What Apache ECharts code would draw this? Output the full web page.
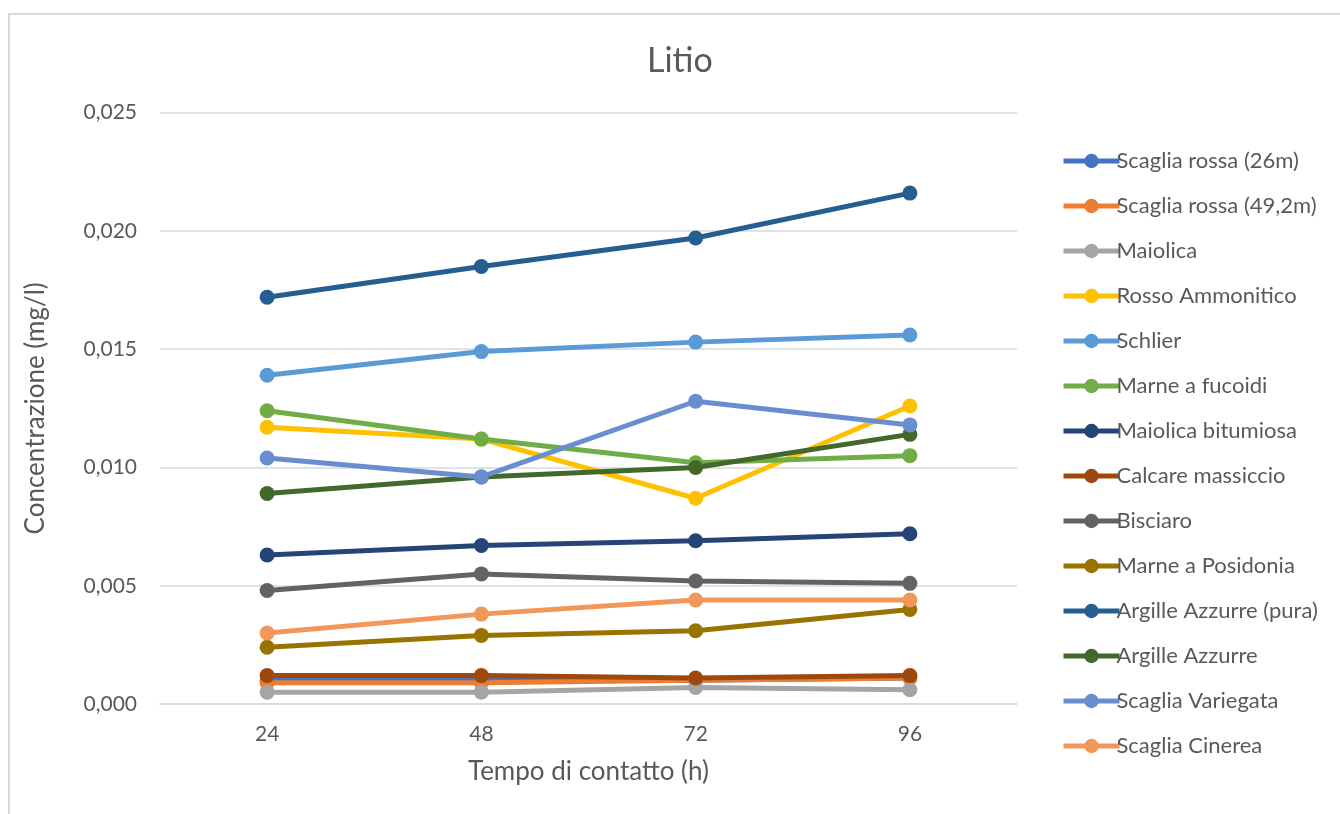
<!DOCTYPE html>
<html>
<head>
<meta charset="utf-8">
<title>Litio</title>
<script src="https://cdn.jsdelivr.net/npm/echarts@6/dist/echarts.min.js"></script>
<style>
  html, body { margin: 0; padding: 0; background: #ffffff; }
  #chart { width: 1340px; height: 814px; }
</style>
</head>
<body>
<div id="chart"></div>
<script>
// Contact time (hours)
const hours = ['24', '48', '72', '96'];

// Lithium concentration (mg/l) for each formation
const scagliaRossa26 = [0.0010, 0.0010, 0.0010, 0.0011];
const scagliaRossa492 = [0.0009, 0.0009, 0.0010, 0.0011];
const maiolica = [0.0005, 0.0005, 0.0007, 0.0006];
const rossoAmmonitico = [0.0117, 0.0112, 0.0087, 0.0126];
const schlier = [0.0139, 0.0149, 0.0153, 0.0156];
const marneFucoidi = [0.0124, 0.0112, 0.0102, 0.0105];
const maiolicaBitumiosa = [0.0063, 0.0067, 0.0069, 0.0072];
const calcareMassiccio = [0.0012, 0.0012, 0.0011, 0.0012];
const bisciaro = [0.0048, 0.0055, 0.0052, 0.0051];
const marnePosidonia = [0.0024, 0.0029, 0.0031, 0.0040];
const argilleAzzurrePura = [0.0172, 0.0185, 0.0197, 0.0216];
const argilleAzzurre = [0.0089, 0.0096, 0.0100, 0.0114];
const scagliaVariegata = [0.0104, 0.0096, 0.0128, 0.0118];
const scagliaCinerea = [0.0030, 0.0038, 0.0044, 0.0044];

const seriesNames = [
  'Scaglia rossa (26m)', 'Scaglia rossa (49,2m)', 'Maiolica', 'Rosso Ammonitico',
  'Schlier', 'Marne a fucoidi', 'Maiolica bitumiosa', 'Calcare massiccio',
  'Bisciaro', 'Marne a Posidonia', 'Argille Azzurre (pura)', 'Argille Azzurre',
  'Scaglia Variegata', 'Scaglia Cinerea'
];
const seriesValues = [
  scagliaRossa26, scagliaRossa492, maiolica, rossoAmmonitico,
  schlier, marneFucoidi, maiolicaBitumiosa, calcareMassiccio,
  bisciaro, marnePosidonia, argilleAzzurrePura, argilleAzzurre,
  scagliaVariegata, scagliaCinerea
];
const seriesColors = [
  '#4472C4', '#ED7D31', '#A5A5A5', '#FFC000',
  '#5B9BD5', '#70AD47', '#264478', '#9E480E',
  '#636363', '#997300', '#255E91', '#43682B',
  '#698ED0', '#F1975A'
];

const FONT = 'Lato, "Open Sans", sans-serif';
const TEXT = '#595959';

const chart = echarts.init(document.getElementById('chart'), null, { renderer: 'canvas' });

chart.setOption({
  animation: false,
  backgroundColor: '#ffffff',
  color: seriesColors,
  graphic: [{
    type: 'rect',
    shape: { x: 9, y: 14, width: 1400, height: 900 },
    style: { fill: 'none', stroke: '#d9d9d9', lineWidth: 2 },
    silent: true,
    z: -1
  }],
  title: {
    text: 'Litio',
    left: 642,
    top: 39,
    textStyle: { fontFamily: FONT, fontSize: 34, fontWeight: 'normal', color: TEXT }
  },
  legend: {
    orient: 'vertical',
    left: 1056,
    top: 144,
    itemWidth: 56,
    itemHeight: 18,
    itemGap: 21,
    lineStyle: { width: 5 },
    textStyle: { fontFamily: FONT, fontSize: 22, color: TEXT, lineHeight: 24, padding: [0, 0, 0, -8] },
    data: seriesNames
  },
  grid: { left: 160, right: 323, top: 112.7, bottom: 110 },
  xAxis: {
    type: 'category',
    data: hours,
    boundaryGap: true,
    name: 'Tempo di contatto (h)',
    nameLocation: 'middle',
    nameGap: 55,
    nameTextStyle: { fontFamily: FONT, fontSize: 26, color: TEXT },
    axisLine: { show: true, lineStyle: { color: '#d9d9d9', width: 1.5 } },
    axisTick: { show: false },
    axisLabel: { fontFamily: FONT, fontSize: 21, color: TEXT, margin: 20 }
  },
  yAxis: {
    type: 'value',
    min: 0,
    max: 0.025,
    interval: 0.005,
    name: 'Concentrazione (mg/l)',
    nameLocation: 'middle',
    nameGap: 111,
    nameTextStyle: { fontFamily: FONT, fontSize: 26, color: TEXT },
    axisLine: { show: false },
    axisTick: { show: false },
    axisLabel: {
      fontFamily: FONT, fontSize: 21, color: TEXT, margin: 23,
      formatter: v => v.toFixed(3).replace('.', ',')
    },
    splitLine: { lineStyle: { color: '#d9d9d9', width: 1.5 } }
  },
  series: seriesNames.map((name, i) => ({
    name,
    type: 'line',
    data: seriesValues[i],
    symbol: 'circle',
    symbolSize: 15,
    lineStyle: { width: 5, color: seriesColors[i] },
    itemStyle: { color: seriesColors[i] },
    emphasis: { disabled: true }
  }))
});
</script>
</body>
</html>
